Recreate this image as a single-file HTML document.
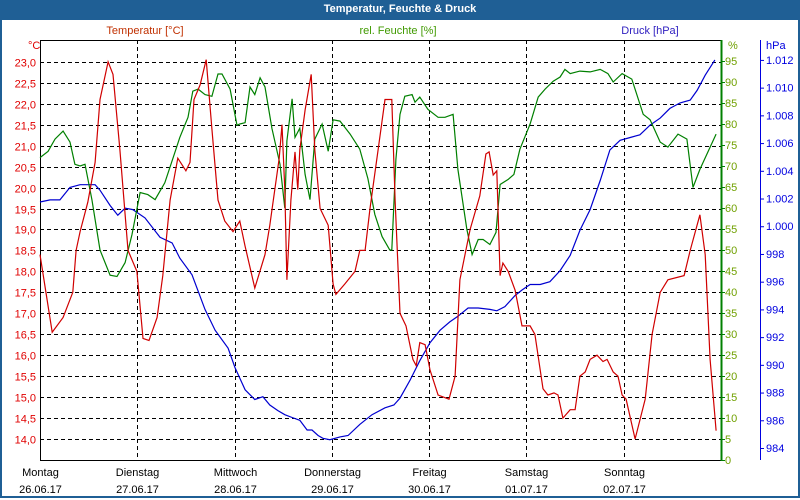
<!DOCTYPE html>
<html><head><meta charset="utf-8"><style>
body{margin:0;width:800px;height:500px;overflow:hidden;background:#fff;font-family:"Liberation Sans",sans-serif}
#frame{position:absolute;left:0;top:0;width:796px;height:496px;border:2px solid #1f5f95;border-top:none}
#title{position:absolute;left:0;top:0;width:800px;height:20px;background:#1f5f95;color:#fff;font-weight:bold;font-size:11px;text-align:center;line-height:19px}
svg{position:absolute;left:0;top:0}
</style></head><body>
<div id="frame"></div>
<div id="title">Temperatur, Feuchte &amp; Druck</div>
<svg id="chart" width="800" height="500"></svg>
<script>
const dayNames=["Montag","Dienstag","Mittwoch","Donnerstag","Freitag","Samstag","Sonntag"];
const dayDates=["26.06.17","27.06.17","28.06.17","29.06.17","30.06.17","01.07.17","02.07.17"];
const tempTicks=[14.0,14.5,15.0,15.5,16.0,16.5,17.0,17.5,18.0,18.5,19.0,19.5,20.0,20.5,21.0,21.5,22.0,22.5,23.0];
const humTicks=[0,5,10,15,20,25,30,35,40,45,50,55,60,65,70,75,80,85,90,95];
const presTicks=[984,986,988,990,992,994,996,998,1000,1002,1004,1006,1008,1010,1012];
const tempHours=[0,3.0,5.7,8.1,8.9,9.9,11.8,13.6,14.8,16.8,18.0,19.7,21.7,23.9,25.4,26.9,28.9,30.3,32.1,34.0,36.0,37.0,38.0,39.5,41.0,42.4,43.9,45.6,47.6,49.3,50.6,53.0,55.5,56.7,59.0,59.7,60.4,60.9,61.9,62.9,63.6,64.1,65.4,66.9,67.8,69.1,71.1,72.3,73.0,75.2,77.7,78.9,80.2,81.4,83.4,85.1,86.8,87.6,88.8,90.3,92.0,92.8,93.7,95.0,96.2,98.2,100.9,102.4,103.6,106.1,108.5,110.0,110.8,111.8,112.7,113.5,114.2,115.5,117.2,118.9,120.9,122.1,124.1,125.3,126.8,127.8,129.0,130.8,132.0,133.2,134.5,135.7,137.4,138.9,139.9,141.4,142.6,143.6,144.6,146.8,149.3,151.0,153.0,154.9,158.9,160.4,162.8,164.1,165.3,166.8];
const tempValues=[18.4,16.55,16.9,17.5,18.5,18.95,19.65,20.6,22.1,23.0,22.7,20.9,18.5,18.0,16.4,16.35,16.9,17.9,19.7,20.7,20.4,20.6,22.1,22.45,23.05,21.4,19.7,19.2,18.95,19.2,18.6,17.6,18.4,19.1,20.7,21.5,19.95,17.8,19.7,20.85,19.95,20.9,21.85,22.7,20.9,19.5,19.1,17.7,17.45,17.7,18.0,18.5,18.5,19.5,20.9,22.1,22.1,19.7,17.0,16.7,15.9,15.75,16.3,16.25,15.65,15.05,14.95,15.5,17.8,19.0,19.8,20.8,20.85,20.3,20.4,17.9,18.2,18.0,17.55,16.7,16.7,16.5,15.2,15.05,15.1,15.05,14.5,14.7,14.7,15.5,15.6,15.9,16.0,15.85,15.9,15.6,15.5,15.05,14.95,14.0,14.95,16.5,17.5,17.8,17.9,18.5,19.35,18.4,15.9,14.2];
const humHours=[0,2.0,3.7,5.7,7.4,8.6,9.9,11.1,12.8,14.8,17.3,19.0,21.0,22.7,24.7,26.6,28.4,30.8,33.3,34.5,36.5,37.7,39.0,40.7,42.4,43.9,44.9,46.9,48.6,49.3,50.6,51.8,53.0,54.3,55.5,57.2,59.2,60.4,60.9,62.2,62.9,64.1,65.4,66.6,67.8,69.6,71.1,72.3,74.0,76.5,78.9,80.9,82.6,84.4,86.3,86.8,87.8,88.8,90.0,91.8,92.5,93.7,95.7,98.2,99.9,101.9,103.1,105.3,106.6,108.1,109.3,111.0,112.5,113.5,115.5,116.9,118.4,120.9,122.9,124.6,126.6,128.3,129.5,130.8,133.2,135.7,138.2,140.1,141.4,143.6,146.0,148.8,150.5,153.0,154.9,157.4,159.6,161.1,162.8,166.8];
const humValues=[72,73.5,76.4,78.3,75.7,70.4,70,70.4,62,50,44,43.7,47,53.7,63.7,63.2,62,66,73.3,76.8,81.6,87.8,88.3,87,86.6,91.9,91.9,88.3,79.7,80,80.3,88.8,87,91,88.8,79,70.4,60,76,86,76.8,79,68,62,76.4,80,73.5,81,80.7,77.6,74,67,58.5,53.2,50,50,71.6,82.3,86.6,87,85.2,86.4,83.5,81.6,81.6,82.3,69.2,55,48.9,52.5,52.5,51.3,54.2,65.6,66.8,68,74,80,86.4,88.3,90.2,91.2,93,92,92.6,92.4,93,92,90,92,90.7,82.3,81,75.7,74.5,77.6,76.4,64.9,69.2,77.6];
const presHours=[0,2.5,4.9,7.4,9.9,12.3,13.6,14.8,17.3,19.2,21.0,22.9,25.9,29.6,32.6,34.5,37.5,40.7,43.2,46.4,48.1,50.6,53.0,55.0,56.7,58.7,60.4,62.2,64.1,65.9,67.1,68.6,69.8,71.5,74.0,76.0,78.9,81.9,85.1,87.3,88.8,91.3,93.7,96.2,98.7,101.1,103.1,105.6,108.1,111.0,112.7,114.7,117.2,118.9,120.9,123.4,125.8,128.3,130.8,133.2,135.7,138.2,140.6,143.1,145.6,148.0,150.5,153.0,155.4,157.9,160.4,162.1,164.1,166.5];
const presValues=[1001.75,1001.9,1001.9,1002.8,1003,1003,1003,1002.6,1001.5,1000.8,1001.3,1001.2,1000.6,999.2,998.8,997.7,996.5,994,992.5,991.2,989.8,988.2,987.5,987.7,987.1,986.7,986.4,986.2,986,985.3,985.3,984.9,984.7,984.6,984.8,984.9,985.7,986.4,986.9,987.1,987.6,988.9,990.3,991.6,992.5,993.1,993.5,994.1,994.1,994,993.9,994.2,995,995.4,995.8,995.8,996,996.8,997.9,999.7,1001.2,1003.3,1005.5,1006.2,1006.4,1006.6,1007.3,1007.8,1008.5,1008.9,1009.1,1009.8,1010.9,1012];

const X0=40,X1=721,Y0=40,Y1=460;
const xS=h=>X0+h*(X1-X0)/168;
const yT=t=>Y1-(t-13.5)*(Y1-Y0)/10.02;
const yH=v=>Y1-v*(Y1-Y0)/100;
const yP=p=>448-(p-984)*13.86;
const svg=document.getElementById('chart');
const NS='http://www.w3.org/2000/svg';
function mk(tag,attrs,text){const e=document.createElementNS(NS,tag);for(const k in attrs)e.setAttribute(k,attrs[k]);if(text!==undefined)e.textContent=text;svg.appendChild(e);return e;}

tempTicks.forEach(t=>{
  const y=Math.round(yT(t))+.5;
  const g=mk('line',{x1:X0,x2:X1,y1:y,y2:y,stroke:'#000','stroke-dasharray':'4,3','stroke-width':1});
  
  
  const l=mk('text',{x:36,y:y+4,'text-anchor':'end','font-size':11,fill:'#e00000'},t.toFixed(1).replace('.',','));
  
  
});
dayNames.forEach((d,i)=>{
  const x=Math.round(xS(i*24))+.5;
  if(i>0){const g=mk('line',{x1:x,x2:x,y1:Y0,y2:Y1,stroke:'#000','stroke-dasharray':'4,3'});
  
  }
  const a=mk('text',{x:x,y:476,'text-anchor':'middle','font-size':11,fill:'#000'},d);
  
  
  const b=mk('text',{x:x,y:493,'text-anchor':'middle','font-size':11,fill:'#000'},dayDates[i]);
  
  
});
let e=mk('path',{d:`M${X0+.5},${Y1}V${Y0+.5}H${X1}M${X0},${Y1+.5}H${X1}`,stroke:'#000',fill:'none'});


e=mk('line',{x1:X1+.5,x2:X1+.5,y1:Y0,y2:Y1+1,stroke:'#008000','stroke-width':2});


humTicks.forEach(v=>{
  const t=mk('line',{x1:X1,x2:X1+4,y1:yH(v)+.5,y2:yH(v)+.5,stroke:'#008000'});
  
  
  const l=mk('text',{x:725,y:yH(v)+4,'font-size':11,fill:'#70a000'},String(v));
  
  
});
e=mk('line',{x1:760.5,x2:760.5,y1:Y0,y2:Y1,stroke:'#0000e0'});


presTicks.forEach(p=>{
  const t=mk('line',{x1:760,x2:764,y1:yP(p)+.5,y2:yP(p)+.5,stroke:'#0000e0'});
  
  
  const s=p>=1000?'1.'+String(p-1000).padStart(3,'0'):String(p);
  const l=mk('text',{x:766,y:yP(p)+4,'font-size':11,fill:'#0000e0'},s);
  
  
});
[[28,49,'°C','#e00000','start','temp-unit'],[728,49,'%','#70a000','start','humidity-unit'],[766,49,'hPa','#0000e0','start','pressure-unit'],
 [145,34,'Temperatur [°C]','#c03000','middle','temp-header'],[398,34,'rel. Feuchte [%]','#409a00','middle','humidity-header'],[650,34,'Druck [hPa]','#3020c0','middle','pressure-header']].forEach(a=>{
  const l=mk('text',{x:a[0],y:a[1],'font-size':11,fill:a[3],'text-anchor':a[4]},a[2]);
  
  
});
function series(hours,vals,yf,color,name){
  const d=hours.map((h,i)=>(i?'L':'M')+xS(h).toFixed(1)+','+yf(vals[i]).toFixed(1)).join('');
  const p=mk('path',{d:d,stroke:color,fill:'none','stroke-width':1.2});
  
  
}
series(presHours,presValues,yP,'#0000d0','pressure-line');
series(humHours,humValues,yH,'#008000','humidity-line');
series(tempHours,tempValues,yT,'#d00000','temperature-line');
</script>
</body></html>
